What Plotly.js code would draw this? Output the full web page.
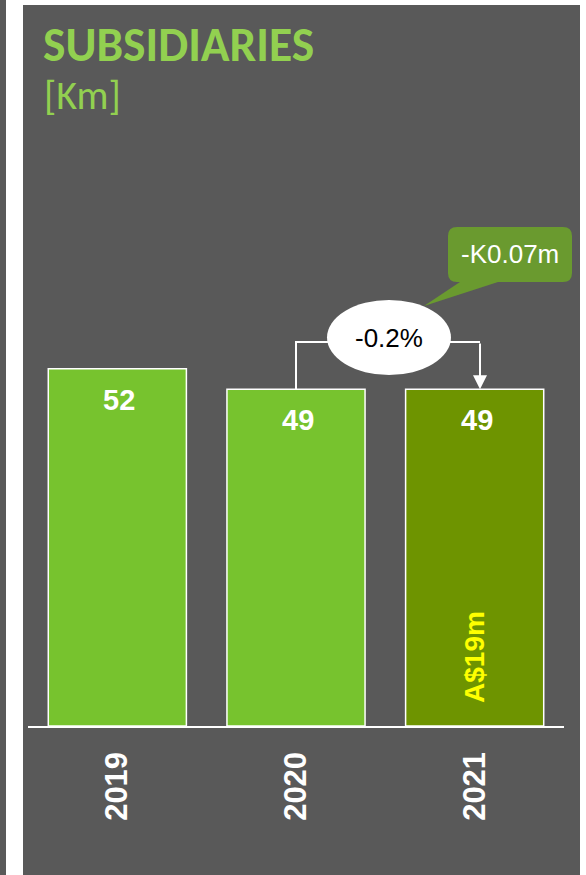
<!DOCTYPE html>
<html>
<head>
<meta charset="utf-8">
<script src="https://cdn.plot.ly/plotly-3.0.1.min.js"></script>
<style>html,body{margin:0;padding:0;background:#fff;}#chart{width:586px;height:875px;}</style>
</head>
<body>
<div id="chart"></div>
<script>
// ---- data ----
const categories = ['2019', '2020', '2021'];
const values = [52, 49, 49];
const valueLabels = ['52', '49', '49'];
const barNotes = ['', '', 'A$19m'];
const noteValue = 10;
const changePct = '-0.2%';
const changeAbs = '-K0.07m';
const titleText = 'SUBSIDIARIES';
const unitText = '[Km]';

// ---- geometry helpers (layout only) ----
const W = 586, H = 875;
const L = 28, R = 564, T = 245, B = 726;
const yMax = 70;
const pxX = p => (p - L) / (R - L);           // pixel -> paper x
const pxY = p => (B - p) / (B - T);           // pixel -> paper y
const dataY = p => (B - p) / (B - T) * yMax;  // pixel -> data y
const dataX = p => (p - L) / (R - L) * 3 - 0.5;

const lightGreen = '#77c32e';
const darkGreen = '#6e9400';
const barColors = [lightGreen, lightGreen, darkGreen];

const narrow = '"Liberation Sans Narrow", "Arial Narrow", "Liberation Sans", Arial, sans-serif';

const trace = {
  type: 'bar',
  x: categories,
  y: values,
  width: 0.773,
  marker: {color: barColors, line: {color: '#ffffff', width: 1.5}},
  hoverinfo: 'skip'
};

// value labels inside bars
const annotations = [];
categories.forEach((c, i) => {
  annotations.push({
    x: i, y: values[i], xref: 'x', yref: 'y',
    xanchor: 'center', yanchor: 'middle',
    text: '<b>' + valueLabels[i] + '</b>', showarrow: false,
    yshift: -31, xshift: 2,
    font: {family: narrow, size: 29, color: '#ffffff'}
  });
  if (barNotes[i]) {
    annotations.push({
      x: i, y: noteValue, xref: 'x', yref: 'y',
      xanchor: 'center', yanchor: 'middle',
      text: '<b>' + barNotes[i] + '</b>', showarrow: false, textangle: -90,
      font: {family: narrow, size: 28, color: '#ffff00'}
    });
  }
});

// change ellipse label
annotations.push({
  x: pxX(389), y: pxY(338), xref: 'paper', yref: 'paper',
  xanchor: 'center', yanchor: 'middle',
  text: changePct, showarrow: false,
  font: {family: narrow, size: 26, color: '#000000'}
});
// callout label
annotations.push({
  x: pxX(510), y: pxY(254), xref: 'paper', yref: 'paper',
  xanchor: 'center', yanchor: 'middle',
  text: changeAbs, showarrow: false,
  font: {family: '"Liberation Sans", Arial, sans-serif', size: 26, color: '#ffffff'}
});
// unit subtitle
annotations.push({
  x: pxX(42), y: pxY(95), xref: 'paper', yref: 'paper',
  xanchor: 'left', yanchor: 'middle',
  text: unitText, showarrow: false,
  font: {family: 'Carlito, Lato, sans-serif', size: 40, color: '#92d050'}
});
// arrow into 2021 bar
const arrowX = dataX(480);
const connY = dataY(342);
annotations.push({
  x: arrowX, y: values[2], xref: 'x', yref: 'y',
  ax: arrowX, ay: connY, axref: 'x', ayref: 'y',
  text: '', showarrow: true, arrowhead: 2, arrowsize: 1.4, arrowwidth: 2,
  arrowcolor: '#ffffff', standoff: 0
});

// callout path (pixels -> paper)
function P(x, y) { return pxX(x).toFixed(5) + ',' + pxY(y).toFixed(5); }
const cx0 = 448, cx1 = 572, cy0 = 227, cy1 = 282, r = 9;
const calloutPath = 'M' + P(cx0 + r, cy0) + ' L' + P(cx1 - r, cy0) +
  ' Q' + P(cx1, cy0) + ' ' + P(cx1, cy0 + r) +
  ' L' + P(cx1, cy1 - r) + ' Q' + P(cx1, cy1) + ' ' + P(cx1 - r, cy1) +
  ' L' + P(498, cy1) + ' L' + P(424, 306) + ' L' + P(460, cy1) +
  ' L' + P(cx0 + r, cy1) + ' Q' + P(cx0, cy1) + ' ' + P(cx0, cy1 - r) +
  ' L' + P(cx0, cy0 + r) + ' Q' + P(cx0, cy0) + ' ' + P(cx0 + r, cy0) + ' Z';

const shapes = [
  // dark panel
  {type: 'rect', xref: 'paper', yref: 'paper', layer: 'below',
   x0: pxX(23), x1: pxX(580), y0: pxY(H), y1: pxY(5),
   fillcolor: '#595959', line: {width: 0}},
  // left strip
  {type: 'rect', xref: 'paper', yref: 'paper', layer: 'below',
   x0: pxX(0), x1: pxX(6), y0: pxY(H), y1: pxY(0),
   fillcolor: '#595959', line: {width: 0}},
  // connector from 2020 bar to ellipse
  {type: 'path', xref: 'x', yref: 'y',
   path: 'M' + 1 + ',' + values[1] + ' L' + 1 + ',' + connY.toFixed(4) + ' L' + dataX(330).toFixed(4) + ',' + connY.toFixed(4),
   line: {color: '#ffffff', width: 2}},
  // connector from ellipse toward 2021 bar
  {type: 'path', xref: 'x', yref: 'y',
   path: 'M' + dataX(448).toFixed(4) + ',' + connY.toFixed(4) + ' L' + arrowX.toFixed(4) + ',' + connY.toFixed(4),
   line: {color: '#ffffff', width: 2}},
  // ellipse
  {type: 'circle', xref: 'paper', yref: 'paper',
   x0: pxX(327), x1: pxX(451), y0: pxY(375), y1: pxY(300),
   fillcolor: '#ffffff', line: {width: 0}},
  // callout
  {type: 'path', xref: 'paper', yref: 'paper', path: calloutPath,
   fillcolor: '#6a9a2f', line: {width: 0}}
];

const layout = {
  width: W, height: H,
  margin: {l: L, r: W - R, t: T, b: H - B, pad: 0},
  paper_bgcolor: '#ffffff',
  plot_bgcolor: 'rgba(0,0,0,0)',
  showlegend: false,
  title: {
    text: '<b>' + titleText + '</b>',
    font: {family: 'Carlito, Lato, sans-serif', size: 47.5, color: '#92d050'},
    xref: 'container', yref: 'container',
    x: 43 / W, xanchor: 'left',
    y: 1 - 44 / H, yanchor: 'middle'
  },
  xaxis: {
    type: 'category', range: [-0.5, 2.5], fixedrange: true,
    showline: true, linecolor: '#ffffff', linewidth: 1.5,
    showgrid: false, zeroline: false, ticks: '',
    tickangle: -90, ticklabelstandoff: 12,
    tickfont: {family: '"Liberation Sans", Arial, sans-serif', size: 31, color: '#ffffff', weight: 'bold'}
  },
  yaxis: {
    range: [0, yMax], visible: false, showgrid: false, zeroline: false, fixedrange: true
  },
  annotations: annotations,
  shapes: shapes
};

Plotly.newPlot('chart', [trace], layout, {displayModeBar: false, staticPlot: true});
</script>
</body>
</html>
